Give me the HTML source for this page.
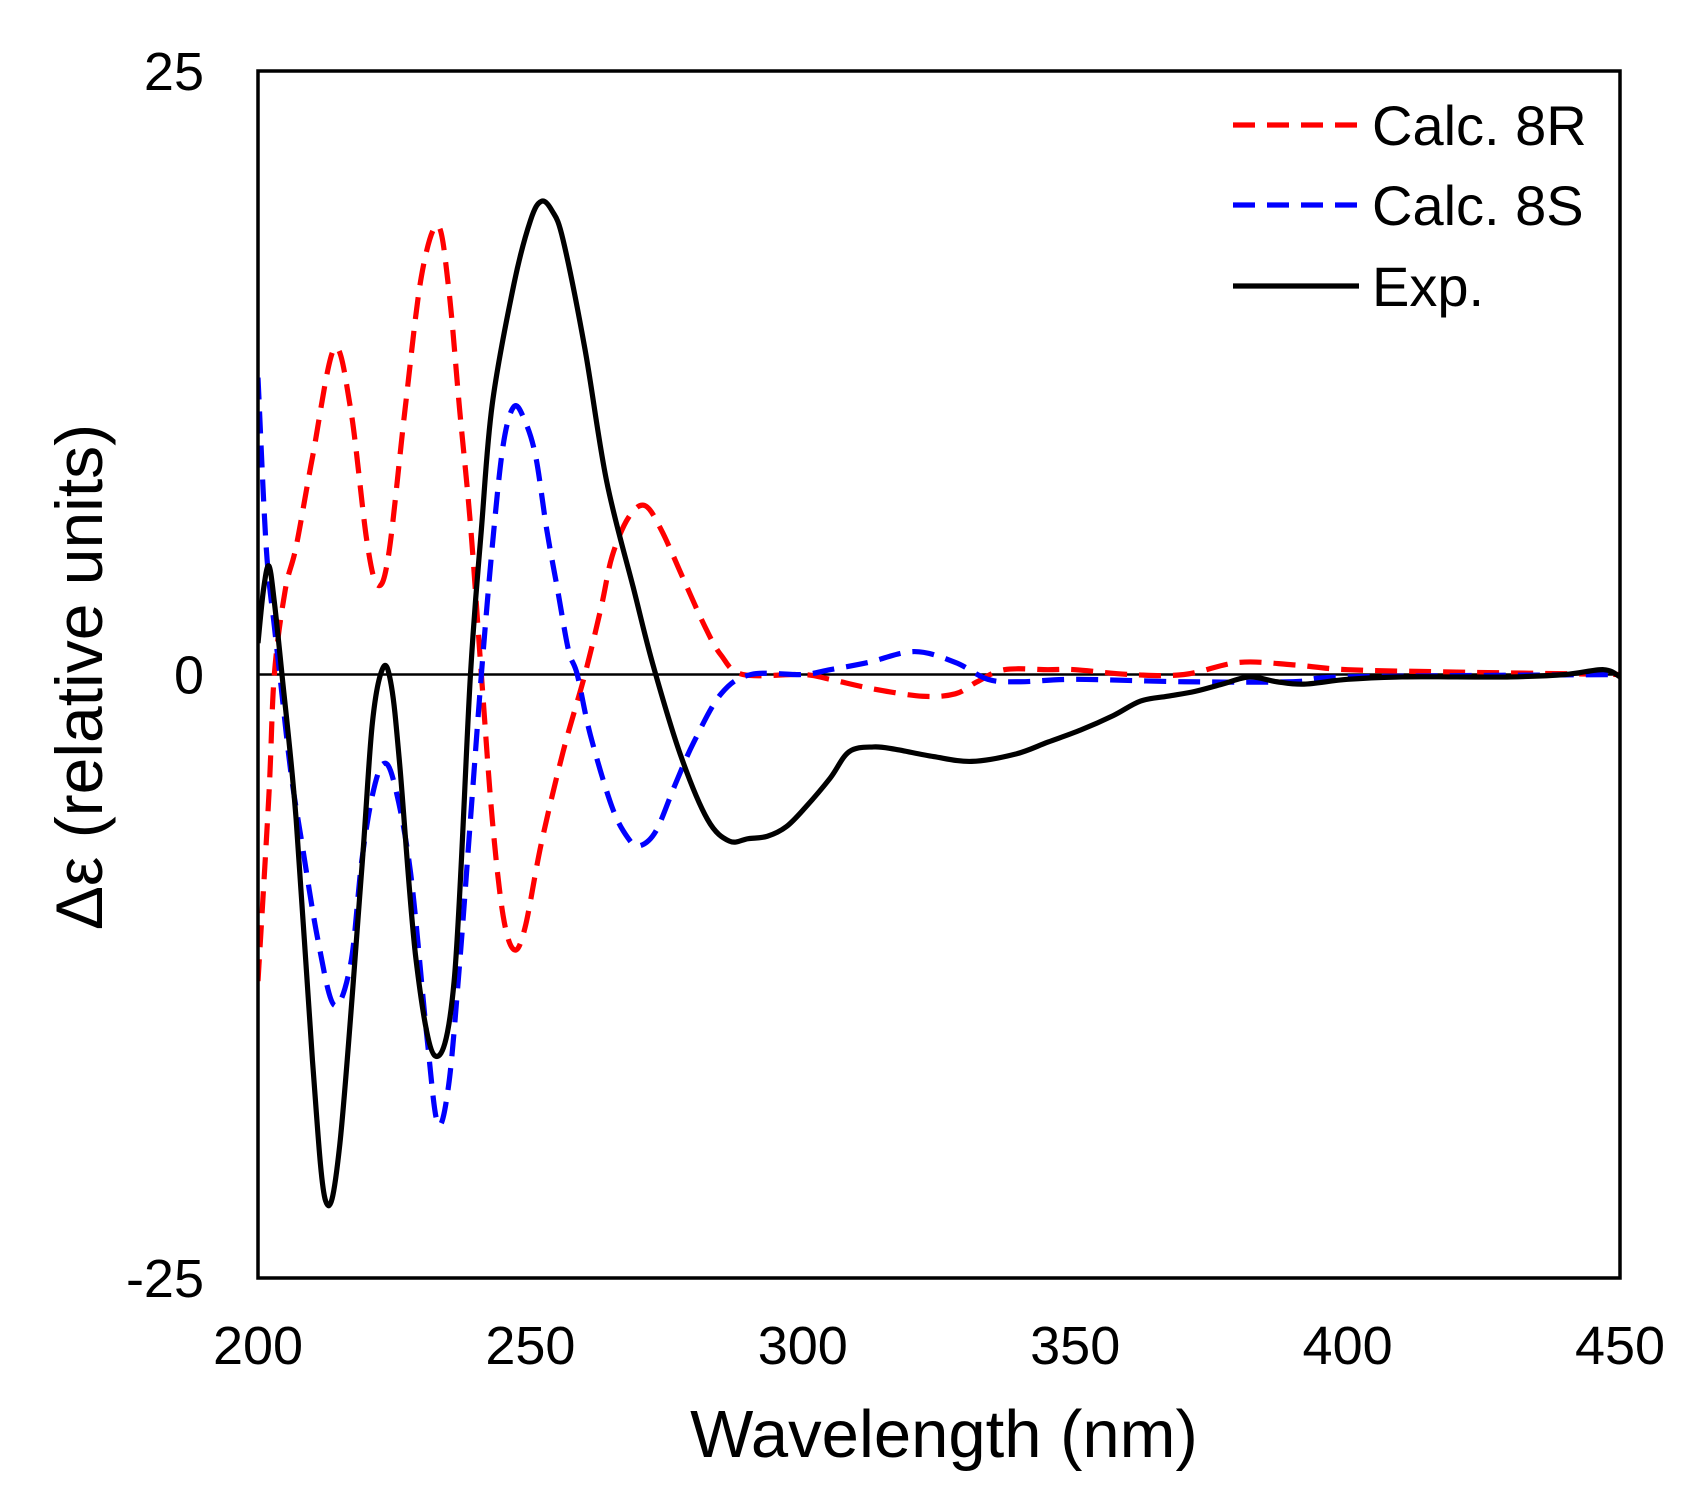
<!DOCTYPE html>
<html><head><meta charset="utf-8"><style>
html,body{margin:0;padding:0;background:#fff;}
svg{display:block;font-family:"Liberation Sans",Arial,sans-serif;}
</style></head><body>
<svg id="chart" width="1706" height="1503" viewBox="0 0 1706 1503" xmlns="http://www.w3.org/2000/svg">
<rect x="0" y="0" width="1706" height="1503" fill="#fff"/>
<g id="plot"></g>
</svg>
<script>
const xTicks=[200,250,300,350,400,450];
const yTicks=[25,0,-25];
const calc8R_x=[200,202,203,205,207,210,214,217,220,222,224,227,230,233,235,237,239,241,243,245,247,249,252,256,260,263,265,268,271,274,278,282,285,289,300,305,313,322,328,332,337,345,350,360,370,380,390,400,420,450];
const calc8R_y=[-12.7,-5,0,3.5,5.3,9,13.5,11,5.5,3.7,5,11,16.5,18.6,16,11,6.2,0,-6,-10,-11.4,-10.5,-7,-3.2,0,2.8,4.9,6.5,7.0,6,4,2,0.8,0,0,-0.2,-0.6,-0.9,-0.8,-0.3,0.2,0.2,0.2,0,0,0.5,0.4,0.2,0.1,0];
const calc8S_x=[200,201.5,203,204,206,208,211,214,217,219,221,223,225,228,231,233,235,237,239,241,243,245,247,249,251,253,255,257,258.6,261,265,268,270,273,276.5,280,285,290.5,300,305,312,320.5,328,334,340,350,370,390,400,450];
const calc8S_y=[12.3,5.3,2,0,-4,-6.9,-11,-13.7,-12,-7.8,-5,-3.7,-4.5,-8.2,-15,-18.6,-17,-12,-6,0,5.3,9.5,11.1,10.5,9,6,3.5,1,0,-2.5,-5.5,-6.8,-7.1,-6.5,-4.6,-2.8,-0.8,0,0,0.2,0.5,0.95,0.5,-0.2,-0.3,-0.2,-0.3,-0.3,-0.1,0];
const exp_x=[200,201,202,203,204.4,207,210,212.4,215,219,221,223,224.5,226,229,232.5,236,239,241,243,247,250,252,254,256,260,264,269,272.5,277.5,282.5,286.5,290,293.5,297,300.5,305,308.5,313,317,324,331,339,345,351,357,362,367,372,377,382,387,392,400,410,420,430,440,447,450];
const exp_y=[1.3,3.5,4.5,3,0,-6,-16,-21.8,-19.5,-8.2,-2,0.3,-0.5,-3.7,-11.8,-15.8,-12.7,0,6,11.2,16.2,18.8,19.6,19.2,18,13.5,8.0,3.5,0.4,-3.3,-6,-6.9,-6.8,-6.7,-6.3,-5.5,-4.3,-3.2,-3.0,-3.1,-3.4,-3.6,-3.3,-2.8,-2.3,-1.7,-1.1,-0.9,-0.7,-0.4,-0.1,-0.3,-0.4,-0.2,-0.1,-0.1,-0.1,0,0.2,-0.1];

const NS="http://www.w3.org/2000/svg";
const L=258,R=1620,T=71,B=1278;
const xs=v=>L+(v-200)/250*(R-L);
const ys=v=>(T+B)/2-v/50*(B-T);
const g=document.getElementById('plot');
function mk(tag,attrs){const e=document.createElementNS(NS,tag);for(const k in attrs)e.setAttribute(k,attrs[k]);g.appendChild(e);return e;}
function pathFrom(xa,ya){
  const p=xa.map((x,i)=>[xs(x),ys(ya[i])]);
  let d=`M${p[0][0]},${p[0][1]}`;
  for(let i=0;i<p.length-1;i++){
    const p0=p[i-1]||p[i],p1=p[i],p2=p[i+1],p3=p[i+2]||p[i+1];
    const c1=[p1[0]+(p2[0]-p0[0])/6,p1[1]+(p2[1]-p0[1])/6];
    const c2=[p2[0]-(p3[0]-p1[0])/6,p2[1]-(p3[1]-p1[1])/6];
    d+=` C${c1[0]},${c1[1]} ${c2[0]},${c2[1]} ${p2[0]},${p2[1]}`;
  }
  return d;
}
const clip=mk('clipPath',{id:'pc'});
const cr=document.createElementNS(NS,'rect');cr.setAttribute('x',L);cr.setAttribute('y',T);cr.setAttribute('width',R-L);cr.setAttribute('height',B-T);clip.appendChild(cr);

const zl=mk('line',{x1:L,x2:R,y1:ys(0),y2:ys(0),stroke:'#000','stroke-width':2.5});



const r=mk('path',{d:pathFrom(calc8R_x,calc8R_y),fill:'none',stroke:'#ff0000','stroke-width':5.2,'stroke-dasharray':'22 12','clip-path':'url(#pc)'});


const b=mk('path',{d:pathFrom(calc8S_x,calc8S_y),fill:'none',stroke:'#0000ff','stroke-width':5.2,'stroke-dasharray':'22 12','clip-path':'url(#pc)'});


const e=mk('path',{d:pathFrom(exp_x,exp_y),fill:'none',stroke:'#000','stroke-width':5.2,'clip-path':'url(#pc)'});



const fr=mk('rect',{x:L,y:T,width:R-L,height:B-T,fill:'none',stroke:'#000','stroke-width':3.5});



xTicks.forEach(v=>{
  const t=mk('text',{x:xs(v),y:1364,'font-size':54,'text-anchor':'middle',fill:'#000'});
  t.textContent=v;
  
  
});
yTicks.forEach(v=>{
  const t=mk('text',{x:204,y:ys(v)+19,'font-size':54,'text-anchor':'end',fill:'#000'});
  t.textContent=v;
  
  
});
const xt=mk('text',{x:944,y:1457,'font-size':67,'text-anchor':'middle',fill:'#000'});
xt.textContent='Wavelength (nm)';


const yt=mk('text',{x:0,y:0,'font-size':66,'text-anchor':'middle',fill:'#000',transform:'translate(102,677) rotate(-90)'});
yt.textContent='Δε (relative units)';



const leg=[['Calc. 8R','#ff0000','22 12',125],['Calc. 8S','#0000ff','22 12',205],['Exp.','#000','',286]];
leg.forEach(([lab,col,dash,y])=>{
  const ln=mk('line',{x1:1233,x2:1359,y1:y,y2:y,stroke:col,'stroke-width':5.2,'stroke-dasharray':dash||'none'});
  
  
  const t=mk('text',{x:1372,y:y+20,'font-size':56,fill:'#000'});
  t.textContent=lab;
  
  
});
</script>
</body></html>
